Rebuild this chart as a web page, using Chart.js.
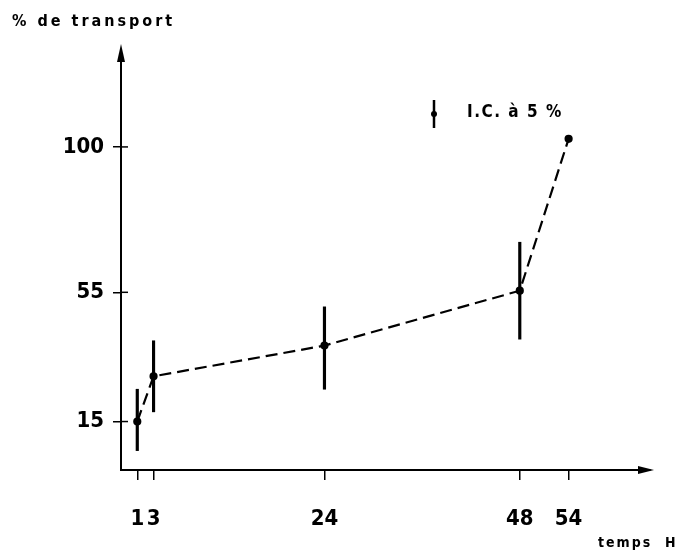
<!DOCTYPE html>
<html><head><meta charset="utf-8">
<script src="https://cdn.jsdelivr.net/npm/chart.js@4/dist/chart.umd.min.js"></script>
<style>html,body{margin:0;padding:0;background:#fff}#wrap{width:685px;height:550px}</style>
</head><body><div id="wrap"><canvas id="c" width="685" height="550"></canvas></div>
<script>
const hours = [1, 3, 24, 48, 54];
const transport = [15, 29, 38.5, 55.5, 102.5];
const ciHours = [1, 3, 24, 48];
const ciLow = [6, 18, 25, 40.5];
const ciHigh = [25, 40, 50.5, 70.5];
const xTicks = [1, 3, 24, 48, 54];
const yTicks = [15, 55, 100];
const yTitle = '% de transport';
const xTitle = 'temps  H';
const legendText = 'I.C. à 5 %';

const FONT = "'Liberation Sans Narrow','DejaVu Sans Condensed','Roboto Condensed',sans-serif";

const deco = {
  id: 'deco',
  afterDraw(chart) {
    const ctx = chart.ctx, ca = chart.chartArea;
    const ys = chart.scales.y;
    ctx.save();
    ctx.fillStyle = '#000'; ctx.strokeStyle = '#000';
    // arrows
    ctx.beginPath();
    ctx.moveTo(ca.left, ca.top - 6); ctx.lineTo(ca.left - 4, ca.top + 12); ctx.lineTo(ca.left + 4, ca.top + 12); ctx.closePath(); ctx.fill();
    ctx.beginPath();
    ctx.moveTo(ca.right + 4, ca.bottom); ctx.lineTo(ca.right - 12, ca.bottom - 4); ctx.lineTo(ca.right - 12, ca.bottom + 4); ctx.closePath(); ctx.fill();
    // inner part of y ticks (crossing)
    ctx.lineWidth = 1.5;
    yTicks.forEach(v => {
      const y = ys.getPixelForValue(v);
      ctx.beginPath(); ctx.moveTo(ca.left, y); ctx.lineTo(ca.left + 7, y); ctx.stroke();
    });
    // titles
    ctx.textBaseline = 'middle';
    ctx.textAlign = 'left';
    ctx.font = 'bold 16px ' + FONT;
    ctx.letterSpacing = '3px';
    ctx.fillText(yTitle, 12, 22);
    ctx.font = 'bold 14px ' + FONT;
    ctx.letterSpacing = '2px';
    ctx.fillText(xTitle, 598, 543);
    // legend
    const lx = 434;
    ctx.lineWidth = 2.5;
    ctx.beginPath(); ctx.moveTo(lx, 100); ctx.lineTo(lx, 128); ctx.stroke();
    ctx.beginPath(); ctx.arc(lx, 114, 3, 0, Math.PI * 2); ctx.fill();
    ctx.font = 'bold 17px ' + FONT;
    ctx.letterSpacing = '1.5px';
    ctx.fillText(legendText, 467, 113);
    ctx.restore();
  }
};

new Chart(document.getElementById('c'), {
  data: {
    datasets: [
      {
        type: 'line',
        data: hours.map((h, i) => ({ x: h, y: transport[i] })),
        borderColor: '#000', borderWidth: 2.2, borderDash: [12, 6],
        pointRadius: 3, pointBackgroundColor: '#000', pointBorderColor: '#000',
        tension: 0, order: 0
      },
      {
        type: 'bar',
        data: ciHours.map((h, i) => ({ x: h, y: [ciLow[i], ciHigh[i]] })),
        backgroundColor: '#000', borderWidth: 0, barThickness: 2.5, order: 1
      }
    ]
  },
  options: {
    responsive: false, animation: false,
    layout: { padding: { left: 0, top: 50, right: 35, bottom: 0 } },
    plugins: { legend: { display: false }, tooltip: { enabled: false } },
    scales: {
      x: {
        type: 'linear', min: -1, max: 64, offset: false,
        afterFit: s => { s.height = 80; },
        afterBuildTicks: s => { s.ticks = xTicks.map(v => ({ value: v })); },
        grid: { offset: false, drawOnChartArea: false, drawTicks: true, tickLength: 10, color: '#000', lineWidth: 1.5 },
        border: { display: true, color: '#000', width: 2 },
        ticks: { color: '#000', padding: 26, font: { family: FONT, size: 22, weight: 'bold' }, maxRotation: 0, autoSkip: false }
      },
      y: {
        type: 'linear', min: 0, max: 130,
        afterFit: s => { s.width = 121; },
        afterBuildTicks: s => { s.ticks = yTicks.map(v => ({ value: v })); },
        grid: { drawOnChartArea: false, drawTicks: true, tickLength: 8, color: '#000', lineWidth: 1.5 },
        border: { display: true, color: '#000', width: 2 },
        ticks: { color: '#000', padding: 9, font: { family: FONT, size: 22, weight: 'bold' } }
      }
    }
  },
  plugins: [deco]
});
</script>
</body></html>
